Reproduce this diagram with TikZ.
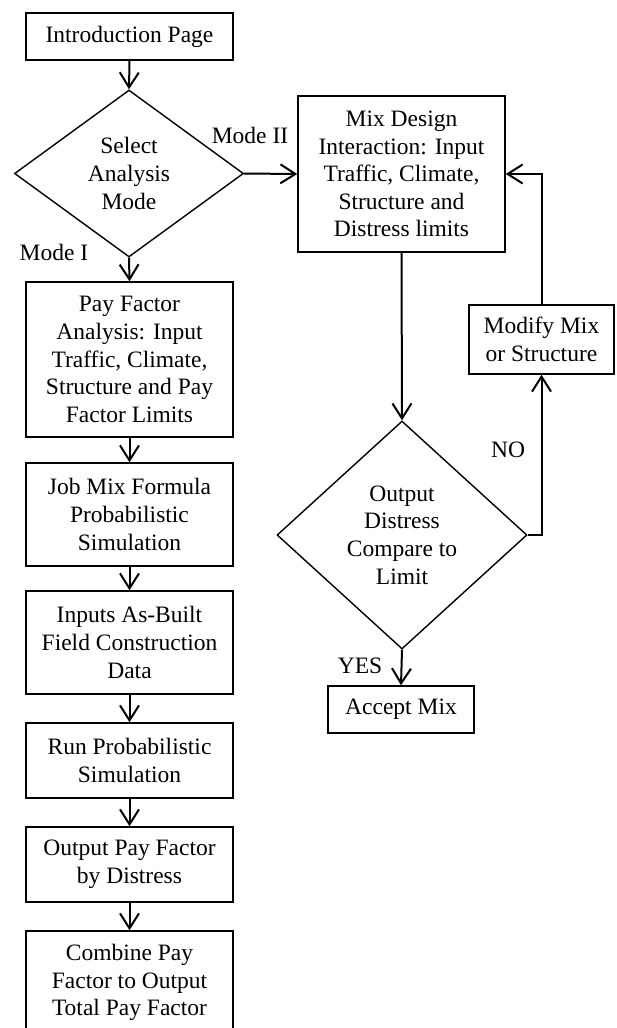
\documentclass[tikz,border=0pt]{standalone}
\usepackage{fontspec}
\setmainfont{Liberation Serif}
\usetikzlibrary{shapes.geometric,arrows.meta}
\begin{document}
\begin{tikzpicture}[x=1pt, y=-1pt, line join=miter,
	font=\fontsize{23.5}{27.6}\selectfont,
	box/.style={draw, line width=1.5pt, align=center, inner sep=0pt, minimum width=207pt},
	choice/.style={draw, diamond, line width=1.4pt, align=center, inner sep=0pt},
	arr/.style={line width=2pt, -{Straight Barb[length=15pt,width=19pt,line width=2pt]}},
	lbl/.style={inner sep=0pt, anchor=base}]
	\useasboundingbox (0,0) rectangle (616,1028);
	% left column
	\node[box, minimum height=47pt] (intro) at (129.5,36.5) {Introduction Page};
	\node[choice, minimum width=229pt, minimum height=167pt] (sel) at (129,173.5) {Select\\Analysis\\Mode};
	\node[box, minimum height=155pt] (pf) at (129.5,359.5) {Pay Factor\\Analysis: Input\\Traffic, Climate,\\Structure and Pay\\Factor Limits};
	\node[box, minimum height=103pt] (jmf) at (129.5,514.5) {Job Mix Formula\\Probabilistic\\Simulation};
	\node[box, minimum height=103pt] (asb) at (129.5,642.5) {Inputs As-Built\\Field Construction\\Data};
	\node[box, minimum height=75pt] (run) at (129.5,760.5) {Run Probabilistic\\Simulation};
	\node[box, minimum height=75pt] (opf) at (129.5,864.5) {Output Pay Factor\\by Distress};
	\node[box, minimum height=103pt] (comb) at (129.5,982.5) {Combine Pay\\Factor to Output\\Total Pay Factor};
	% right column
	\node[box, minimum height=156pt] (mix) at (401.5,174) {Mix Design\\Interaction: Input\\Traffic, Climate,\\Structure and\\Distress limits};
	\node[choice, minimum width=250pt, minimum height=228pt] (cmp) at (402,535) {Output\\Distress\\Compare to\\Limit};
	\node[box, minimum width=145pt, minimum height=69pt] (mod) at (541.5,339.5) {Modify Mix\\or Structure};
	\node[box, minimum width=146pt, minimum height=47pt] (acc) at (401,709.5) {Accept Mix};
	% labels
	\node[lbl] (m1) at (54,260) {Mode I};
	\node[lbl] (m2) at (250,143) {Mode II};
	\node[lbl] (no) at (508,457) {NO};
	\node[lbl] (yes) at (360,673) {YES};
	% connectors
	\foreach \a/\b in {intro/sel, sel/pf, pf/jmf, jmf/asb, asb/run, run/opf, opf/comb, mix/cmp, cmp/acc}
		\draw[arr] (\a.south) -- (\b.north);
	\draw[arr] (sel.east) -- (mix.west);
	\draw[arr] (cmp.east) -| (mod.south);
	\draw[arr] (mod.north) |- (mix.east);
\end{tikzpicture}
\end{document}
